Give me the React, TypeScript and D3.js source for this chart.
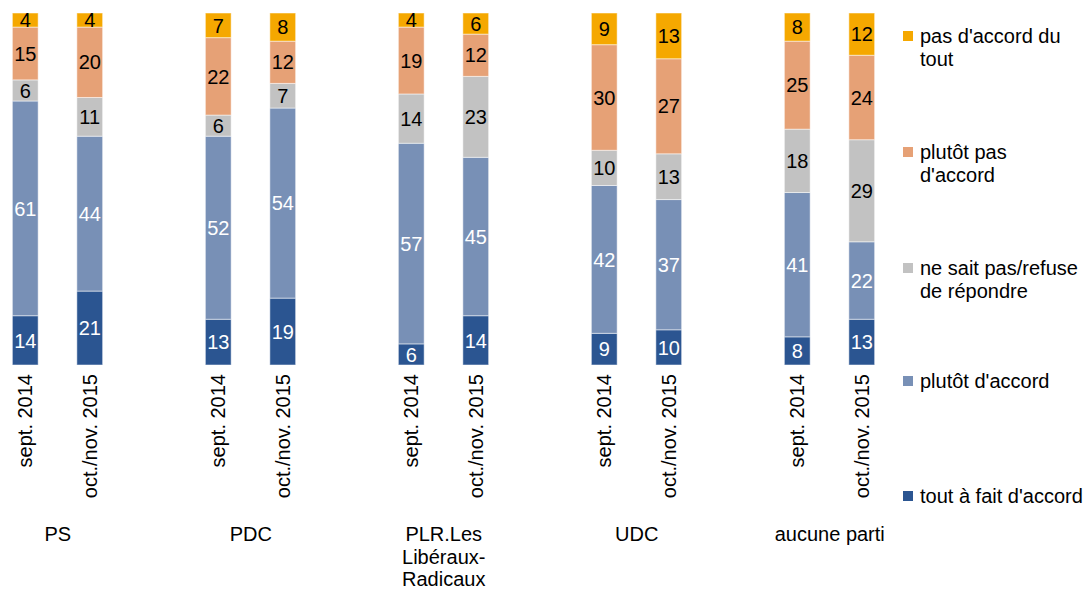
import React, { useRef, useEffect } from 'react';
import * as d3 from 'd3';

// Categories and series
const parties = ['PS', 'PDC', 'PLR.Les Libéraux-Radicaux', 'UDC', 'aucune parti'];
const partyLines = [['PS'], ['PDC'], ['PLR.Les', 'Libéraux-', 'Radicaux'], ['UDC'], ['aucune parti']];
const periods = ['sept. 2014', 'oct./nov. 2015'];
const seriesNames = [
  "tout à fait d'accord",
  "plutôt d'accord",
  'ne sait pas/refuse de répondre',
  "plutôt pas d'accord",
  "pas d'accord du tout",
];
const legendLines = [
  ['tout à fait d\'accord'],
  ["plutôt d'accord"],
  ['ne sait pas/refuse', 'de répondre'],
  ['plutôt pas', "d'accord"],
  ["pas d'accord du", 'tout'],
];
const colors = ['#2B5591', '#7890B6', '#C2C2C2', '#E6A176', '#F5A800'];
const textColors = ['#ffffff', '#ffffff', '#000000', '#000000', '#000000'];

// values per series, order: PS s14, PS o15, PDC s14, PDC o15, PLR s14, PLR o15, UDC s14, UDC o15, aucune s14, aucune o15
const toutAFait = [14, 21, 13, 19, 6, 14, 9, 10, 8, 13];
const plutotAccord = [61, 44, 52, 54, 57, 45, 42, 37, 41, 22];
const neSaitPas = [6, 11, 6, 7, 14, 23, 10, 13, 18, 29];
const plutotPas = [15, 20, 22, 12, 19, 12, 30, 27, 25, 24];
const pasDuTout = [4, 4, 7, 8, 4, 6, 9, 13, 8, 12];

const W = 1088;
const H = 589;

export default function App() {
  const svgRef = useRef<SVGSVGElement>(null);

  useEffect(() => {
    if (!svgRef.current) return;
    const svg = d3.select(svgRef.current);
    svg.selectAll('*').remove();

    const font = 'Liberation Sans, Arial, sans-serif';
    const values = [toutAFait, plutotAccord, neSaitPas, plutotPas, pasDuTout];

    const rows = parties.flatMap((p, pi) =>
      periods.map((per, ti) => {
        const idx = pi * 2 + ti;
        const row: any = { party: p, period: per };
        seriesNames.forEach((s, si) => (row[s] = values[si][idx]));
        return row;
      })
    );

    const x = d3.scaleBand().domain(parties).range([-38.75, 926.25]).padding(0);
    const xi = d3.scaleBand().domain(periods).range([31.75, 160.75]).paddingInner(0.6).paddingOuter(0.3);
    const y = d3.scaleLinear().domain([0, 100]).range([365, 13]);

    const stack = d3.stack<any>().keys(seriesNames);
    const layers = stack(rows);

    const g = svg.append('g');

    layers.forEach((layer, si) => {
      const lg = g.append('g');
      lg.selectAll('rect')
        .data(layer)
        .enter()
        .append('rect')
        .attr('x', (d: any) => x(d.data.party)! + xi(d.data.period)!)
        .attr('y', (d) => y(d[1]))
        .attr('width', xi.bandwidth())
        .attr('height', (d) => y(d[0]) - y(d[1]))
        .attr('fill', colors[si])
        .attr('stroke', '#ffffff')
        .attr('stroke-opacity', 0.5)
        .attr('stroke-width', 1);

      lg.selectAll('text')
        .data(layer)
        .enter()
        .append('text')
        .attr('x', (d: any) => x(d.data.party)! + xi(d.data.period)! + xi.bandwidth() / 2)
        .attr('y', (d) => (y(d[0]) + y(d[1])) / 2)
        .attr('dy', '0.36em')
        .attr('text-anchor', 'middle')
        .attr('font-family', font)
        .attr('font-size', 20)
        .attr('fill', textColors[si])
        .text((d) => d[1] - d[0]);
    });

    // period labels (rotated)
    rows.forEach((r) => {
      const cx = x(r.party)! + xi(r.period)! + xi.bandwidth() / 2;
      g.append('text')
        .attr('transform', `translate(${cx + 7},374) rotate(-90)`)
        .attr('text-anchor', 'end')
        .attr('font-family', font)
        .attr('font-size', 20)
        .attr('fill', '#000')
        .text(r.period);
    });

    // party labels
    parties.forEach((p, pi) => {
      const cx = x(p)! + x.bandwidth() / 2;
      const t = g
        .append('text')
        .attr('text-anchor', 'middle')
        .attr('font-family', font)
        .attr('font-size', 20)
        .attr('fill', '#000');
      partyLines[pi].forEach((line, li) => {
        t.append('tspan').attr('x', cx).attr('y', 541 + li * 22.5).text(line);
      });
    });

    // legend (top to bottom: reversed series)
    const legendY = [36, 152, 268, 381, 496].reverse();
    const lg = svg.append('g');
    seriesNames.forEach((s, si) => {
      const cy = legendY[si];
      lg.append('rect')
        .attr('x', 903)
        .attr('y', cy - 5)
        .attr('width', 10)
        .attr('height', 10)
        .attr('fill', colors[si]);
      const t = lg
        .append('text')
        .attr('font-family', font)
        .attr('font-size', 20)
        .attr('fill', '#000');
      legendLines[si].forEach((line, li) => {
        t.append('tspan').attr('x', 920).attr('y', cy + 7 + li * 23).text(line);
      });
    });
  }, []);

  return (
    <div style={{ position: 'absolute', left: 0, top: 0, width: W, height: H, background: '#fff' }}>
      <svg ref={svgRef} width={W} height={H} />
    </div>
  );
}
